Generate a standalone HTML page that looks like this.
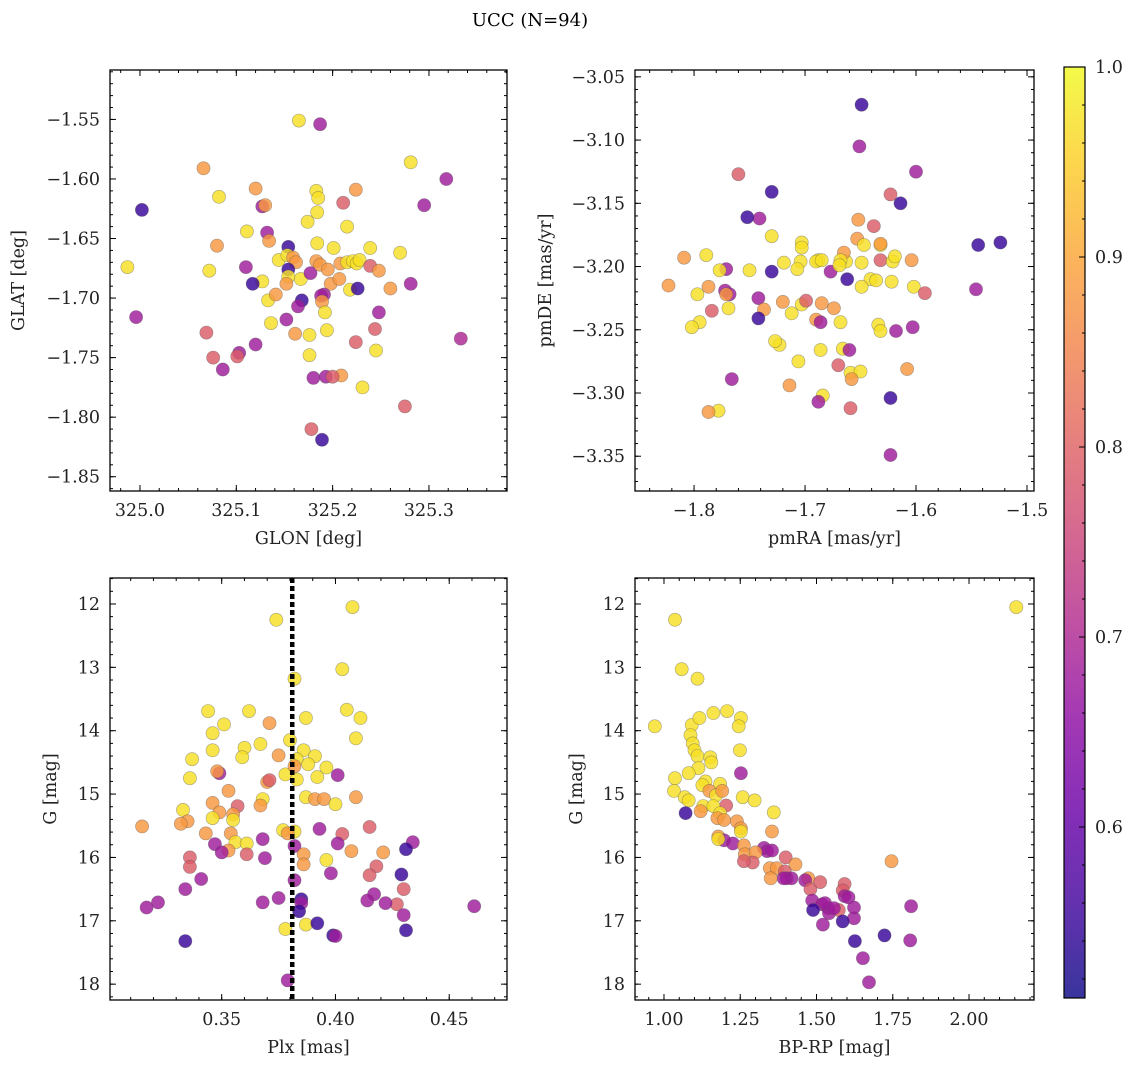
<!DOCTYPE html>
<html><head><meta charset="utf-8">
<style>
html,body{margin:0;padding:0;background:#fff;}
svg{display:block;font-family:"DejaVu Serif","Liberation Serif",serif;}
</style></head>
<body>
<svg id="fig" width="1136" height="1067" viewBox="0 0 1136 1067" xmlns="http://www.w3.org/2000/svg">
<defs>
<linearGradient id="cbgrad" x1="0" y1="1" x2="0" y2="0">
<stop offset="0" stop-color="#0d0887"/><stop offset="0.1" stop-color="#41049d"/><stop offset="0.2" stop-color="#6a00a8"/><stop offset="0.3" stop-color="#8f0da4"/><stop offset="0.4" stop-color="#b12a90"/><stop offset="0.5" stop-color="#cc4778"/><stop offset="0.6" stop-color="#e16462"/><stop offset="0.7" stop-color="#f2844b"/><stop offset="0.8" stop-color="#fca636"/><stop offset="0.9" stop-color="#fcce25"/><stop offset="1" stop-color="#f0f921"/>
</linearGradient>
</defs>
<text x="530" y="26" font-size="18" text-anchor="middle">UCC (N=94)</text>
</svg>
<script>
// ---- Panel 1: GLON vs GLAT ----
const p1X=[325.165,325.187,325.002,325.066,325.082,325.120,325.127,325.130,325.183,325.185,325.184,325.224,325.281,325.318,325.295,325.211,325.215,325.174,325.132,325.111,325.080,325.134,325.154,325.184,325.201,325.239,324.987,324.996,325.072,325.110,325.144,325.153,325.159,325.162,325.154,325.167,325.177,325.183,325.187,325.195,325.198,325.208,325.215,325.221,325.225,325.228,325.239,325.248,325.270,325.127,325.154,325.191,325.207,325.218,325.226,325.260,325.281,325.117,325.133,325.141,325.152,325.168,325.164,325.188,325.189,325.192,325.136,325.152,325.161,325.176,325.194,325.248,325.244,325.069,325.120,325.103,325.101,325.076,325.086,325.176,325.224,325.245,325.209,325.193,325.200,325.180,325.231,325.275,325.178,325.189,325.333];
const p1Y=[-1.551,-1.554,-1.626,-1.591,-1.615,-1.608,-1.623,-1.622,-1.610,-1.616,-1.628,-1.609,-1.586,-1.600,-1.622,-1.620,-1.640,-1.636,-1.645,-1.644,-1.656,-1.652,-1.657,-1.654,-1.658,-1.658,-1.674,-1.716,-1.677,-1.674,-1.668,-1.664,-1.666,-1.670,-1.676,-1.684,-1.679,-1.669,-1.672,-1.676,-1.688,-1.671,-1.670,-1.669,-1.671,-1.668,-1.673,-1.677,-1.662,-1.686,-1.682,-1.697,-1.684,-1.693,-1.692,-1.692,-1.688,-1.688,-1.702,-1.697,-1.688,-1.702,-1.707,-1.698,-1.703,-1.712,-1.721,-1.718,-1.730,-1.731,-1.727,-1.712,-1.726,-1.729,-1.739,-1.746,-1.749,-1.750,-1.760,-1.748,-1.737,-1.744,-1.765,-1.766,-1.766,-1.767,-1.775,-1.791,-1.810,-1.819,-1.734];
const p1C=[0.97,0.68,0.55,0.88,0.97,0.88,0.68,0.88,0.97,0.97,0.97,0.88,0.97,0.68,0.68,0.79,0.97,0.97,0.68,0.97,0.88,0.88,0.55,0.97,0.97,0.97,0.97,0.68,0.97,0.68,0.97,0.97,0.88,0.88,0.55,0.97,0.68,0.88,0.88,0.88,0.88,0.88,0.97,0.97,0.97,0.97,0.79,0.88,0.97,0.97,0.97,0.68,0.88,0.97,0.55,0.88,0.68,0.55,0.97,0.88,0.88,0.55,0.68,0.68,0.88,0.97,0.97,0.68,0.88,0.97,0.97,0.68,0.79,0.79,0.68,0.68,0.79,0.79,0.68,0.97,0.79,0.97,0.88,0.68,0.79,0.68,0.97,0.79,0.79,0.55,0.70];
const p1XTicks=[325.0,325.1,325.2,325.3];
const p1XTickLabels=["325.0","325.1","325.2","325.3"];
const p1YTicks=[-1.55,-1.60,-1.65,-1.70,-1.75,-1.80,-1.85];
const p1YTickLabels=["−1.55","−1.60","−1.65","−1.70","−1.75","−1.80","−1.85"];

// ---- Panel 2: pmRA vs pmDE ----
const p2X=[-1.649,-1.651,-1.600,-1.760,-1.730,-1.741,-1.752,-1.652,-1.638,-1.623,-1.614,-1.730,-1.703,-1.703,-1.704,-1.688,-1.663,-1.665,-1.653,-1.632,-1.632,-1.647,-1.649,-1.632,-1.621,-1.619,-1.604,-1.544,-1.524,-1.809,-1.823,-1.789,-1.771,-1.772,-1.777,-1.750,-1.730,-1.719,-1.707,-1.690,-1.685,-1.677,-1.668,-1.669,-1.662,-1.641,-1.649,-1.636,-1.622,-1.602,-1.592,-1.546,-1.742,-1.797,-1.787,-1.768,-1.771,-1.784,-1.769,-1.703,-1.720,-1.699,-1.685,-1.674,-1.737,-1.712,-1.795,-1.802,-1.742,-1.690,-1.668,-1.686,-1.634,-1.632,-1.618,-1.603,-1.723,-1.727,-1.686,-1.666,-1.660,-1.608,-1.670,-1.659,-1.650,-1.706,-1.766,-1.658,-1.714,-1.684,-1.688,-1.659,-1.778,-1.787,-1.623,-1.623];
const p2Y=[-3.072,-3.105,-3.125,-3.127,-3.141,-3.162,-3.161,-3.163,-3.168,-3.143,-3.150,-3.176,-3.181,-3.185,-3.196,-3.195,-3.196,-3.189,-3.178,-3.183,-3.182,-3.183,-3.197,-3.195,-3.196,-3.192,-3.195,-3.183,-3.181,-3.193,-3.215,-3.191,-3.202,-3.219,-3.203,-3.203,-3.204,-3.197,-3.202,-3.196,-3.195,-3.204,-3.195,-3.199,-3.210,-3.210,-3.216,-3.211,-3.212,-3.216,-3.221,-3.218,-3.225,-3.222,-3.216,-3.222,-3.222,-3.235,-3.233,-3.230,-3.228,-3.227,-3.229,-3.233,-3.234,-3.237,-3.244,-3.248,-3.241,-3.242,-3.244,-3.244,-3.246,-3.251,-3.251,-3.248,-3.262,-3.259,-3.266,-3.265,-3.266,-3.281,-3.278,-3.284,-3.283,-3.275,-3.289,-3.289,-3.294,-3.302,-3.307,-3.312,-3.314,-3.315,-3.304,-3.349];
const p2C=[0.55,0.68,0.68,0.79,0.55,0.68,0.55,0.88,0.79,0.79,0.55,0.97,0.97,0.97,0.97,0.97,0.97,0.88,0.88,0.97,0.88,0.97,0.97,0.79,0.97,0.97,0.88,0.55,0.55,0.88,0.88,0.97,0.68,0.68,0.97,0.97,0.55,0.97,0.97,0.97,0.97,0.68,0.97,0.97,0.55,0.97,0.97,0.97,0.97,0.97,0.79,0.68,0.68,0.97,0.88,0.68,0.88,0.79,0.97,0.97,0.88,0.79,0.88,0.88,0.88,0.97,0.97,0.97,0.55,0.88,0.97,0.68,0.97,0.97,0.68,0.68,0.97,0.97,0.97,0.97,0.68,0.88,0.79,0.97,0.97,0.97,0.68,0.88,0.88,0.97,0.68,0.79,0.97,0.88,0.55,0.68];
const p2XTicks=[-1.8,-1.7,-1.6,-1.5];
const p2XTickLabels=["−1.8","−1.7","−1.6","−1.5"];
const p2YTicks=[-3.05,-3.10,-3.15,-3.20,-3.25,-3.30,-3.35];
const p2YTickLabels=["−3.05","−3.10","−3.15","−3.20","−3.25","−3.30","−3.35"];

// ---- Panel 3: Plx vs G ----
const p3X=[0.4075,0.374,0.403,0.382,0.405,0.411,0.344,0.351,0.362,0.371,0.387,0.386,0.391,0.346,0.346,0.360,0.359,0.367,0.375,0.380,0.383,0.388,0.409,0.401,0.337,0.336,0.349,0.396,0.348,0.370,0.378,0.382,0.383,0.392,0.371,0.353,0.387,0.391,0.395,0.400,0.409,0.368,0.367,0.346,0.357,0.377,0.382,0.379,0.393,0.403,0.415,0.349,0.355,0.355,0.346,0.315,0.354,0.356,0.353,0.361,0.333,0.335,0.332,0.343,0.382,0.434,0.386,0.401,0.386,0.396,0.407,0.431,0.421,0.418,0.347,0.350,0.368,0.369,0.361,0.336,0.336,0.341,0.334,0.398,0.429,0.415,0.417,0.430,0.427,0.385,0.385,0.384,0.387,0.392,0.399,0.400,0.414,0.422,0.430,0.382,0.375,0.368,0.322,0.317,0.378,0.431,0.334,0.379,0.461];
const p3Y=[12.05,12.25,13.03,13.18,13.67,13.80,13.69,13.90,13.69,13.88,13.80,14.31,14.40,14.04,14.31,14.27,14.42,14.21,14.39,14.15,14.45,14.53,14.12,14.70,14.45,14.75,14.67,14.58,14.64,14.81,14.69,14.56,14.77,14.73,14.78,14.95,15.05,15.08,15.08,15.16,15.05,15.08,15.18,15.14,15.19,15.57,15.59,15.62,15.55,15.63,15.52,15.29,15.32,15.41,15.38,15.51,15.62,15.76,15.89,15.78,15.25,15.43,15.47,15.62,15.82,15.76,15.95,15.78,16.11,16.04,15.90,15.87,15.92,16.14,15.79,15.92,15.71,16.01,15.95,16.00,16.15,16.34,16.50,16.25,16.27,16.28,16.58,16.50,16.74,16.66,16.72,16.85,17.06,17.04,17.23,17.24,16.68,16.72,16.91,16.36,16.64,16.71,16.71,16.79,17.13,17.15,17.32,17.94,16.77];
const p3C=[0.97,0.97,0.97,0.97,0.97,0.97,0.97,0.97,0.97,0.88,0.97,0.97,0.97,0.97,0.97,0.97,0.97,0.97,0.88,0.97,0.97,0.97,0.97,0.68,0.97,0.97,0.68,0.97,0.88,0.88,0.97,0.88,0.97,0.97,0.79,0.88,0.97,0.88,0.88,0.97,0.88,0.97,0.88,0.88,0.79,0.97,0.97,0.88,0.68,0.79,0.79,0.88,0.88,0.97,0.97,0.88,0.88,0.97,0.88,0.97,0.97,0.88,0.88,0.88,0.68,0.68,0.88,0.68,0.88,0.97,0.88,0.55,0.88,0.79,0.68,0.68,0.68,0.68,0.79,0.79,0.79,0.68,0.68,0.68,0.55,0.79,0.68,0.79,0.79,0.55,0.68,0.55,0.97,0.55,0.55,0.68,0.68,0.68,0.68,0.68,0.68,0.68,0.68,0.68,0.97,0.55,0.55,0.68,0.68];
const p3XTicks=[0.35,0.40,0.45];
const p3XTickLabels=["0.35","0.40","0.45"];
const p3YTicks=[12,13,14,15,16,17,18];
const p3YTickLabels=["12","13","14","15","16","17","18"];
const p3VLine=[0.381];

// ---- Panel 4: BP-RP vs G ----
const p4X=[2.155,1.036,1.058,1.110,0.970,1.091,1.116,1.162,1.207,1.252,1.245,1.087,1.094,1.100,1.249,1.110,1.152,1.113,1.081,1.155,1.252,1.036,1.136,1.126,1.033,1.184,1.149,1.171,1.191,1.204,1.258,1.297,1.068,1.081,1.071,1.129,1.162,1.120,1.184,1.175,1.197,1.360,1.354,1.239,1.252,1.252,1.178,1.197,1.178,1.226,1.262,1.265,1.328,1.338,1.300,1.354,1.399,1.431,1.347,1.370,1.396,1.402,1.418,1.473,1.392,1.350,1.291,1.262,1.463,1.480,1.512,1.592,1.586,1.592,1.605,1.573,1.486,1.518,1.538,1.541,1.528,1.557,1.489,1.623,1.586,1.623,1.521,1.626,1.723,1.652,1.672,1.807,1.810,1.746];
const p4Y=[12.05,12.25,13.03,13.18,13.93,13.91,13.80,13.72,13.69,13.80,13.93,14.07,14.20,14.31,14.31,14.40,14.42,14.59,14.67,14.50,14.67,14.75,14.80,14.86,14.95,14.84,14.95,15.02,14.95,15.18,15.05,15.10,15.05,15.10,15.30,15.19,15.19,15.27,15.30,15.38,15.41,15.29,15.59,15.43,15.54,15.59,15.67,15.73,15.71,15.78,15.81,15.95,15.85,15.90,15.92,15.89,16.00,16.11,16.17,16.17,16.22,16.33,16.33,16.33,16.33,16.33,16.08,16.06,16.36,16.50,16.39,16.42,16.52,16.61,16.63,16.83,16.68,16.74,16.80,16.88,16.72,16.80,16.83,16.96,17.01,16.79,17.06,17.32,17.23,17.59,17.97,17.31,16.77,16.06];
const p4C=[0.97,0.97,0.97,0.97,0.97,0.97,0.97,0.97,0.97,0.97,0.97,0.97,0.97,0.97,0.97,0.97,0.97,0.97,0.97,0.97,0.68,0.97,0.97,0.97,0.97,0.97,0.88,0.97,0.88,0.79,0.97,0.97,0.97,0.97,0.55,0.97,0.97,0.88,0.97,0.88,0.88,0.97,0.88,0.88,0.88,0.97,0.88,0.68,0.97,0.68,0.88,0.88,0.68,0.68,0.88,0.68,0.79,0.88,0.88,0.88,0.79,0.68,0.68,0.88,0.68,0.88,0.79,0.79,0.68,0.79,0.79,0.79,0.79,0.68,0.68,0.79,0.68,0.68,0.68,0.68,0.68,0.68,0.55,0.68,0.55,0.68,0.68,0.55,0.55,0.68,0.68,0.68,0.68,0.88];
const p4XTicks=[1.00,1.25,1.50,1.75,2.00];
const p4XTickLabels=["1.00","1.25","1.50","1.75","2.00"];
const p4YTicks=p3YTicks;
const p4YTickLabels=p3YTickLabels;

// ---- Colorbar ----
const cbTicks=[0.6,0.7,0.8,0.9,1.0];
const cbTickLabels=["0.6","0.7","0.8","0.9","1.0"];

const NS="http://www.w3.org/2000/svg";
const svg=document.getElementById('fig');
const FS=17.5;
function mk(tag,attrs,parent){const e=document.createElementNS(NS,tag);for(const k in attrs)e.setAttribute(k,attrs[k]);(parent||svg).appendChild(e);return e;}
const stops=["#0d0887","#41049d","#6a00a8","#8f0da4","#b12a90","#cc4778","#e16462","#f2844b","#fca636","#fcce25","#f0f921"];
function hex(h){return[parseInt(h.slice(1,3),16),parseInt(h.slice(3,5),16),parseInt(h.slice(5,7),16)];}
const CMIN=0.51,CMAX=1.0;
function plasma(c){let t=(c-CMIN)/(CMAX-CMIN);t=Math.max(0,Math.min(1,t));const f=t*10,i=Math.min(9,Math.floor(f)),r=f-i;const a=hex(stops[i]),b=hex(stops[i+1]);return 'rgb('+a.map((v,k)=>Math.round(v+(b[k]-v)*r)).join(',')+')';}

function panel(cfg){
  const {name,L,R,T,B,xmin,xmax,ymin,ymax,invertY,xs,ys,cs,xt,xtl,yt,ytl,xminor,yminor,xlabel,ylabel}=cfg;
  const g=mk('g',{});
  
  
  const sx=v=>L+(v-xmin)/(xmax-xmin)*(R-L);
  const sy=v=>invertY?T+(v-ymin)/(ymax-ymin)*(B-T):B-(v-ymin)/(ymax-ymin)*(B-T);
  const pts=mk('g',{},g);
  
  
  for(let i=0;i<xs.length;i++){
    const c=mk('circle',{cx:sx(xs[i]).toFixed(1),cy:sy(ys[i]).toFixed(1),r:6.6,fill:plasma(cs[i]),'fill-opacity':0.82,stroke:'#555','stroke-opacity':0.5,'stroke-width':0.6},pts);
    
    
  }
  if(cfg.vline){cfg.vline.forEach(v=>{const l=mk('line',{x1:sx(v),x2:sx(v),y1:T,y2:B,stroke:'#000','stroke-width':4.5,'stroke-dasharray':'5 3'},g);
    
    });}
  const ax=mk('g',{stroke:'#000','stroke-width':1},g);
  
  
  const lo=Math.min(xmin,xmax),hi=Math.max(xmin,xmax);
  for(let v=Math.ceil(lo/xminor-1e-6)*xminor;v<=hi+1e-9;v+=xminor){const x=sx(v);mk('line',{x1:x,x2:x,y1:B,y2:B-3},ax);mk('line',{x1:x,x2:x,y1:T,y2:T+3},ax);}
  for(let v=Math.ceil(Math.min(ymin,ymax)/yminor-1e-6)*yminor;v<=Math.max(ymin,ymax)+1e-9;v+=yminor){const y=sy(v);mk('line',{x1:L,x2:L+3,y1:y,y2:y},ax);mk('line',{x1:R,x2:R-3,y1:y,y2:y},ax);}
  xt.forEach((v,i)=>{const x=sx(v);mk('line',{x1:x,x2:x,y1:B,y2:B-6},ax);mk('line',{x1:x,x2:x,y1:T,y2:T+6},ax);
    const t=mk('text',{x:x,y:B+25,'font-size':FS,'text-anchor':'middle',fill:'#222'},g);t.textContent=xtl[i];
    
    });
  yt.forEach((v,i)=>{const y=sy(v);mk('line',{x1:L,x2:L+6,y1:y,y2:y},ax);mk('line',{x1:R,x2:R-6,y1:y,y2:y},ax);
    const t=mk('text',{x:L-10,y:y+6,'font-size':FS,'text-anchor':'end',fill:'#222'},g);t.textContent=ytl[i];
    
    });
  const fr=mk('rect',{x:L,y:T,width:R-L,height:B-T,fill:'none',stroke:'#000','stroke-width':1.3},g);
  
  
  const xl=mk('text',{x:(L+R)/2,y:B+53,'font-size':FS,'text-anchor':'middle',fill:'#222'},g);xl.textContent=xlabel;
  
  
  const yx=cfg.ylx,yy=(T+B)/2;
  const yl=mk('text',{x:yx,y:yy,'font-size':FS,'text-anchor':'middle',fill:'#222',transform:'rotate(-90 '+yx+' '+yy+')'},g);yl.textContent=ylabel;
  
  
}
panel({name:'glon-glat-panel',L:110,R:507,T:70,B:491,xmin:324.9689,xmax:325.381,ymin:-1.862,ymax:-1.5085,invertY:false,xs:p1X,ys:p1Y,cs:p1C,xt:p1XTicks,xtl:p1XTickLabels,yt:p1YTicks,ytl:p1YTickLabels,xminor:0.02,yminor:0.01,xlabel:'GLON [deg]',ylabel:'GLAT [deg]',ylx:24});
panel({name:'pm-panel',L:635,R:1034,T:70,B:491,xmin:-1.8532,xmax:-1.4937,ymin:-3.3775,ymax:-3.0446,invertY:false,xs:p2X,ys:p2Y,cs:p2C,xt:p2XTicks,xtl:p2XTickLabels,yt:p2YTicks,ytl:p2YTickLabels,xminor:0.02,yminor:0.01,xlabel:'pmRA [mas/yr]',ylabel:'pmDE [mas/yr]',ylx:551});
panel({name:'plx-g-panel',L:110,R:507,T:578,B:1000,xmin:0.3009,xmax:0.4754,ymin:11.59,ymax:18.25,invertY:true,xs:p3X,ys:p3Y,cs:p3C,xt:p3XTicks,xtl:p3XTickLabels,yt:p3YTicks,ytl:p3YTickLabels,xminor:0.01,yminor:0.2,xlabel:'Plx [mas]',ylabel:'G [mag]',ylx:56,vline:p3VLine});
panel({name:'cmd-panel',L:635,R:1034,T:578,B:1000,xmin:0.905,xmax:2.213,ymin:11.59,ymax:18.25,invertY:true,xs:p4X,ys:p4Y,cs:p4C,xt:p4XTicks,xtl:p4XTickLabels,yt:p4YTicks,ytl:p4YTickLabels,xminor:0.05,yminor:0.2,xlabel:'BP-RP [mag]',ylabel:'G [mag]',ylx:582});

(function(){
  const L=1064,R=1085,T=67,B=998;
  const g=mk('g',{});
  
  
  const cy=v=>B-(v-CMIN)/(CMAX-CMIN)*(B-T);
  const r=mk('rect',{x:L,y:T,width:R-L,height:B-T,fill:'url(#cbgrad)','fill-opacity':0.82,stroke:'#000','stroke-width':1.2},g);
  
  
  for(let v=0.52;v<=1.0001;v+=0.02){const y=cy(v);mk('line',{x1:R,x2:R-3,y1:y,y2:y,stroke:'#000'},g);}
  cbTicks.forEach((v,i)=>{const y=cy(v);mk('line',{x1:R,x2:R-6,y1:y,y2:y,stroke:'#000'},g);
    const t=mk('text',{x:R+10,y:y+6,'font-size':FS,fill:'#222'},g);t.textContent=cbTickLabels[i];
    
    });
})();
</script>
</body></html>
